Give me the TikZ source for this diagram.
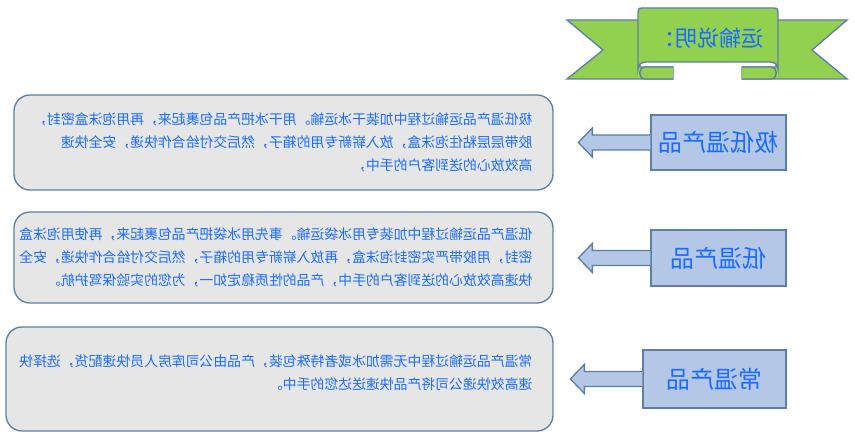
\documentclass[tikz,border=0pt]{standalone}
\usepackage{fontspec}
\usepackage{graphicx}
\newfontfamily\cjk{Noto Sans CJK SC}
\definecolor{edgeblue}{RGB}{91,127,166}
\definecolor{txtblue}{RGB}{26,108,255}
\definecolor{ribbongreen}{RGB}{146,208,80}
\definecolor{labelfill}{RGB}{180,199,231}
\definecolor{boxgray}{RGB}{230,230,230}
\newcommand{\mirror}[1]{\scalebox{-1}[1]{#1}}
\tikzset{
  infobox/.style={draw=edgeblue,fill=boxgray,line width=1pt,rounded corners=12pt},
  labelbox/.style={draw=edgeblue,fill=labelfill,line width=1pt},
  ribbon/.style={draw=edgeblue,fill=ribbongreen,line width=1pt},
  bodytext/.style={inner sep=0pt,text=txtblue,font=\cjk\fontsize{10.4}{17.3}\selectfont},
  labeltext/.style={inner sep=0pt,text=txtblue,font=\cjk\fontsize{18}{20}\selectfont}
}
\begin{document}
\begin{tikzpicture}[x=0.75pt,y=0.75pt,yscale=-1,xscale=1]
\useasboundingbox (0,0) rectangle (855,438);

%Banner
\draw[ribbon] (640,20) -- (567,20) -- (603,50) -- (567,79) -- (673,79) -- (673,67) -- (640,67) -- cycle;
\draw[ribbon] (776,20) -- (847,20) -- (812,50) -- (847,79) -- (742,79) -- (742,67) -- (776,67) -- cycle;
\draw[ribbon] (673,67) -- (645,67) .. controls (638,67) and (638,79) .. (645,79) -- (673,79);
\draw[ribbon] (742,67) -- (771,67) .. controls (778,67) and (778,79) .. (771,79) -- (742,79);
\draw[ribbon] (642,8) -- (774,8) .. controls (778,8) and (778,10) .. (778,13) -- (778,69)
  .. controls (778,64) and (774,62) .. (770,62) -- (646,62) .. controls (642,62) and (638,64) .. (638,69)
  -- (638,13) .. controls (638,10) and (638,8) .. (642,8) -- cycle;
\node[labeltext,font=\cjk\fontsize{16.5}{18}\selectfont] (title) at (708,38) {\mirror{运输说明：}};

%Labels
\node[labelbox,minimum width=101.25pt,minimum height=41.25pt] (lab1) at (718.5,142.5) {};
\node[labelbox,minimum width=101.25pt,minimum height=42pt] (lab2) at (718.5,258) {};
\node[labelbox,minimum width=107.25pt,minimum height=43.5pt] (lab3) at (714.5,379) {};
\node[labeltext] (t1) at (lab1) {\mirror{极低温产品}};
\node[labeltext] (t2) at (lab2) {\mirror{低温产品}};
\node[labeltext] (t3) at (lab3) {\mirror{常温产品}};

%Arrows
\foreach \n in {1,2,3}
  \draw[labelbox] ([yshift=5.6pt]lab\n.west) -- ++(-58,0) -- ++(0,7) -- ++(-14,-14.5)
    -- ++(14,-14.5) -- ++(0,7) -- ++(58,0);

%Boxes
\node[infobox,minimum width=404.25pt,minimum height=71.25pt] (box1) at (283.5,142.5) {};
\node[infobox,minimum width=404.25pt,minimum height=68.25pt] (box2) at (283.5,257.5) {};
\node[infobox,minimum width=410.25pt,minimum height=78pt] (box3) at (279.5,379) {};

\node[bodytext,anchor=east] (d1) at ([xshift=-15.75pt]box1.east) {\mirror{\begin{tabular}{@{}l@{}}
极低温产品运输过程中加装干冰运输。用干冰把产品包裹起来，再用泡沫盒密封，\\
胶带层层粘住泡沫盒，放入崭新专用的箱子，然后交付给合作快递，安全快速\\
高效放心的送到客户的手中，\end{tabular}}};
\node[bodytext,anchor=east] (d2) at ([xshift=-15.75pt]box2.east) {\mirror{\begin{tabular}{@{}l@{}}
低温产品运输过程中加装专用冰袋运输。事先用冰袋把产品包裹起来，再使用泡沫盒\\
密封，用胶带严实密封泡沫盒，再放入崭新专用的箱子，然后交付给合作快递，安全\\
快速高效放心的送到客户的手中，产品的性质稳定如一，为您的实验保驾护航。\end{tabular}}};
\node[bodytext,anchor=east] (d3) at ([xshift=-15.75pt,yshift=-4pt]box3.east) {\mirror{\begin{tabular}{@{}l@{}}
常温产品运输过程中无需加冰或者特殊包装，产品由公司库房人员快速配货，选择快\\
速高效快递公司将产品快速送达您的手中。\end{tabular}}};
\end{tikzpicture}
\end{document}
